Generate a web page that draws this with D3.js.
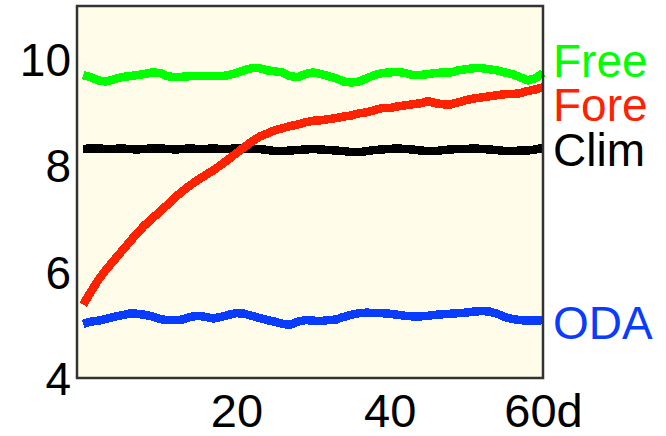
<!DOCTYPE html>
<html><head><meta charset="utf-8">
<script src="https://cdn.jsdelivr.net/npm/d3@7"></script>
<style>
html,body{margin:0;padding:0;background:#fff;}
svg{display:block;font-family:"Liberation Sans",Arial,Helvetica,sans-serif;}
</style></head>
<body><svg id="chart" width="666" height="436"></svg>
<script>
// ---- data (day 0..60) ----
const seriesNames = ["Free", "Fore", "Clim", "ODA"];
const free = [9.70,9.66,9.60,9.58,9.62,9.66,9.68,9.70,9.72,9.75, 9.74,9.68,9.66,9.67,9.68,9.68,9.68,9.68,9.68,9.70, 9.74,9.79,9.83,9.83,9.79,9.77,9.75,9.68,9.66,9.72, 9.75,9.72,9.68,9.64,9.58,9.56,9.58,9.64,9.70,9.74, 9.75,9.76,9.74,9.70,9.70,9.72,9.74,9.75,9.75,9.79, 9.81,9.83,9.83,9.81,9.79,9.75,9.72,9.66,9.60,9.64, 9.74];
const fore = [5.38,5.62,5.85,6.04,6.21,6.38,6.55,6.72,6.87,7.00, 7.13,7.26,7.40,7.52,7.63,7.73,7.82,7.91,8.01,8.12, 8.23,8.34,8.45,8.54,8.60,8.66,8.70,8.74,8.77,8.81, 8.84,8.85,8.87,8.89,8.92,8.94,8.98,9.00,9.04,9.08, 9.08,9.11,9.13,9.15,9.17,9.21,9.17,9.15,9.15,9.19, 9.23,9.26,9.28,9.30,9.32,9.34,9.34,9.36,9.40,9.43, 9.47];
const clim = [8.31,8.32,8.32,8.31,8.31,8.32,8.31,8.30,8.31,8.32, 8.32,8.31,8.30,8.31,8.32,8.31,8.31,8.32,8.31,8.31, 8.32,8.32,8.31,8.31,8.29,8.27,8.27,8.28,8.29,8.30, 8.31,8.30,8.29,8.28,8.27,8.25,8.25,8.27,8.29,8.30, 8.31,8.32,8.31,8.30,8.28,8.27,8.27,8.29,8.30,8.31, 8.31,8.32,8.31,8.30,8.29,8.27,8.27,8.28,8.28,8.30, 8.33];
const oda = [5.02,5.06,5.08,5.11,5.15,5.18,5.21,5.21,5.19,5.16, 5.11,5.09,5.09,5.10,5.15,5.17,5.15,5.12,5.15,5.19, 5.22,5.21,5.17,5.13,5.09,5.06,5.02,5.00,5.06,5.09, 5.08,5.07,5.09,5.10,5.15,5.19,5.22,5.23,5.22,5.22, 5.21,5.19,5.17,5.16,5.16,5.17,5.19,5.20,5.21,5.22, 5.23,5.25,5.26,5.25,5.21,5.15,5.11,5.09,5.08,5.08, 5.09];
const yTicks = [4, 6, 8, 10];
const xTicks = [20, 40, 60];
const xTickLabels = ["20", "40", "60d"];

// ---- layout / style ----
const colors = {Free:"#00ff00", Fore:"#ff2200", Clim:"#000000", ODA:"#0a3cff"};
const values = {Free:free, Fore:fore, Clim:clim, ODA:oda};
const mLeft = 77, mRight = 543, mTop = 6, mBottom = 378;
const fontSize = 46;

const svg = d3.select("#chart");
const x = d3.scaleLinear().domain([-0.8, 60]).range([mLeft, mRight]);
const y = d3.scaleLinear().domain([4, 11]).range([mBottom, mTop]);

svg.append("rect").attr("x", mLeft).attr("y", mTop)
  .attr("width", mRight - mLeft).attr("height", mBottom - mTop)
  .attr("fill", "#fffce9");

const line = d3.line().x((d, i) => x(i)).y(d => y(d));
const drawOrder = ["Clim", "Free", "Fore", "ODA"];
drawOrder.forEach(name => {
  svg.append("path").datum(values[name])
    .attr("d", line).attr("fill", "none")
    .attr("stroke", colors[name]).attr("stroke-width", 8.5)
    .attr("stroke-linejoin", "round").attr("stroke-linecap", "butt")
    .attr("shape-rendering", "crispEdges");
});

svg.append("rect").attr("x", mLeft).attr("y", mTop)
  .attr("width", mRight - mLeft).attr("height", mBottom - mTop)
  .attr("fill", "none").attr("stroke", "#333").attr("stroke-width", 2.5);

// axes
const yAxis = svg.append("g").attr("transform", `translate(${mLeft - 6},0)`)
  .call(d3.axisLeft(y).tickValues(yTicks).tickSize(0).tickPadding(0).tickFormat(d3.format("d")));
yAxis.select(".domain").remove();
yAxis.selectAll("text").attr("font-size", 46).attr("fill", "#000")
  .attr("font-family", "Liberation Sans, Arial, sans-serif").attr("dy", "0.36em");

const xAxis = svg.append("g").attr("transform", `translate(0,${mBottom})`)
  .call(d3.axisBottom(x).tickValues(xTicks).tickSize(0).tickPadding(0)
    .tickFormat((d, i) => xTickLabels[i]));
xAxis.select(".domain").remove();
xAxis.selectAll("text").attr("font-size", 47).attr("fill", "#000")
  .attr("font-family", "Liberation Sans, Arial, sans-serif").attr("dy", "1.05em");

// end labels, spread apart to avoid overlap
const labels = seriesNames.map(n => ({name:n, y:y(values[n][values[n].length - 1])}));
labels.sort((a, b) => a.y - b.y);
const gap = 44;
for (let it = 0; it < 100; it++) {
  for (let i = 1; i < labels.length; i++) {
    const d = labels[i].y - labels[i - 1].y;
    if (d < gap) {
      const s = (gap - d) / 2;
      labels[i].y += s; labels[i - 1].y -= s;
    }
  }
}
svg.append("g").selectAll("text").data(labels).join("text")
  .attr("x", mRight + 10).attr("y", d => d.y + 2)
  .attr("dy", "0.36em")
  .attr("font-size", fontSize)
  .attr("fill", d => colors[d.name])
  .text(d => d.name);
</script></body></html>
